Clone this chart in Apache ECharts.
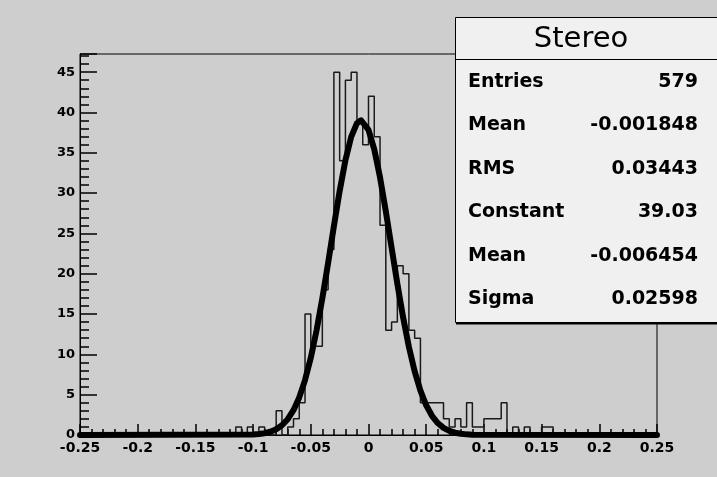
<!DOCTYPE html>
<html>
<head>
<meta charset="utf-8">
<script src="https://cdn.jsdelivr.net/npm/echarts@6/dist/echarts.min.js"></script>
<style>
html,body{margin:0;padding:0;background:#cecece;}
#c{width:717px;height:477px;}
</style>
</head>
<body>
<div id="c"></div>
<script>
// ---- data ----
var binStart = -0.25;
var binWidth = 0.005;
var counts = [
  0,0,0,0,0,0,0,0,0,0,
  0,0,0,0,0,0,0,0,0,0,
  0,0,0,0,0,0,0,1,0,1,
  0,1,0,0,3,0,1,2,4,15,
  11,11,18,23,45,34,44,45,39,36,
  42,37,26,13,14,21,20,13,12,4,
  4,4,4,2,1,2,1,4,1,1,
  2,2,2,4,0,1,0,1,0,0,
  1,1,0,0,0,0,0,0,0,0,
  0,0,0,0,0,0,0,0,0,0
];
var fitX = [-0.25,
  -0.1,-0.095,-0.09,-0.085,-0.08,-0.075,-0.07,-0.065,-0.06,-0.055,
  -0.05,-0.045,-0.04,-0.035,-0.03,-0.025,-0.02,-0.015,-0.01,-0.00645,-0.005,
  0,0.005,0.01,0.015,0.02,0.025,0.03,0.035,0.04,0.045,
  0.05,0.055,0.06,0.065,0.07,0.075,0.08,0.085,0.09,
  0.25];
var fitY = [0,
  0.060,0.117,0.222,0.404,0.710,1.202,1.960,3.081,4.664,6.810,
  9.578,12.99,16.96,21.34,25.88,30.25,34.07,36.97,38.67,39.03,38.97,
  37.84,35.42,31.94,27.76,23.24,18.75,14.58,10.93,7.892,5.492,
  3.681,2.379,1.482,0.889,0.514,0.286,0.154,0.079,0.040,
  0];
var statTitle = 'Stereo';
var statLabels = ['Entries','Mean','RMS','Constant','Mean','Sigma'];
var statValues = ['579','-0.001848','0.03443','39.03','-0.006454','0.02598'];

// ---- build ----
var histData = [];
for (var i = 0; i < counts.length; i++) {
  histData.push([+(binStart + i*binWidth).toFixed(4), counts[i]]);
}
histData.push([+(binStart + counts.length*binWidth).toFixed(4), counts[counts.length-1]]);
var fitData = fitX.map(function(x,i){return [x, fitY[i]];});

var FONT = 'DejaVu Sans';
var graphics = [];
var boxL = 455, boxT = 17, boxR = 720, boxB = 322;
graphics.push({type:'rect', z:100, shape:{x:boxL+0.5, y:boxT+0.5, width:boxR-boxL, height:boxB-boxT},
  style:{fill:'#f0f0f0', stroke:'#000', lineWidth:1}});
graphics.push({type:'line', z:101, shape:{x1:boxL+1, y1:boxB+1.5, x2:boxR, y2:boxB+1.5}, style:{stroke:'#000', lineWidth:2}});
graphics.push({type:'line', z:101, shape:{x1:boxL, y1:59.5, x2:boxR, y2:59.5}, style:{stroke:'#000', lineWidth:1}});
graphics.push({type:'text', z:102, style:{text:statTitle, x:581, y:39, textAlign:'center', textVerticalAlign:'middle',
  font:'normal 29px "' + FONT + '"', fill:'#000'}});
var rowY = [82,125,169,212,256,299];
for (var r = 0; r < statLabels.length; r++) {
  graphics.push({type:'text', z:102, style:{text:statLabels[r], x:468, y:rowY[r], textAlign:'left', textVerticalAlign:'middle',
    font:'bold 19px "' + FONT + '"', fill:'#000'}});
  graphics.push({type:'text', z:102, style:{text:statValues[r], x:698, y:rowY[r], textAlign:'right', textVerticalAlign:'middle',
    font:'bold 19px "' + FONT + '"', fill:'#000'}});
}

var chart = echarts.init(document.getElementById('c'), null, {renderer:'canvas'});
chart.setOption({
  backgroundColor:'#cecece',
  animation:false,
  grid:{left:80, right:60, top:54, bottom:42, show:true, borderColor:'#000', borderWidth:1, backgroundColor:'transparent'},
  xAxis:{
    type:'value', min:-0.25, max:0.25, interval:0.05,
    axisLine:{show:true, onZero:false, lineStyle:{color:'#000', width:1}},
    axisTick:{show:true, inside:true, length:11, lineStyle:{color:'#000', width:1.5}},
    minorTick:{show:true, splitNumber:5, length:6, lineStyle:{color:'#000', width:1.5}},
    splitLine:{show:false},
    axisLabel:{color:'#000', fontFamily:FONT, fontWeight:'bold', fontSize:14, margin:6,
      formatter:function(v){ return String(+v.toFixed(2)); }}
  },
  yAxis:[{
    type:'value', min:0, max:47.25, interval:1, position:'left',
    axisLine:{show:true, onZero:false, lineStyle:{color:'#000', width:1}},
    axisTick:{show:true, inside:true, length:9, lineStyle:{color:'#000', width:1.5}},
    splitLine:{show:false},
    axisLabel:{show:false}
  },{
    type:'value', min:0, max:47.25, interval:5, position:'left',
    axisLine:{show:false, onZero:false},
    axisTick:{show:true, inside:true, length:17, lineStyle:{color:'#000', width:1.5}},
    splitLine:{show:false},
    axisLabel:{color:'#000', fontFamily:FONT, fontWeight:'bold', fontSize:13, margin:5,
      formatter:function(v){ return (Math.abs(v % 5) < 1e-6) ? String(v) : ''; }}
  }],
  series:[{
    type:'line', data:histData, step:'end', symbol:'none', yAxisIndex:0,
    lineStyle:{color:'#1a1a1a', width:1.5}, z:3
  },{
    type:'line', data:fitData, symbol:'none', yAxisIndex:0, smooth:false,
    lineStyle:{color:'#000', width:6, join:'round', cap:'round'}, z:4
  }],
  graphic:graphics
});
</script>
</body>
</html>
